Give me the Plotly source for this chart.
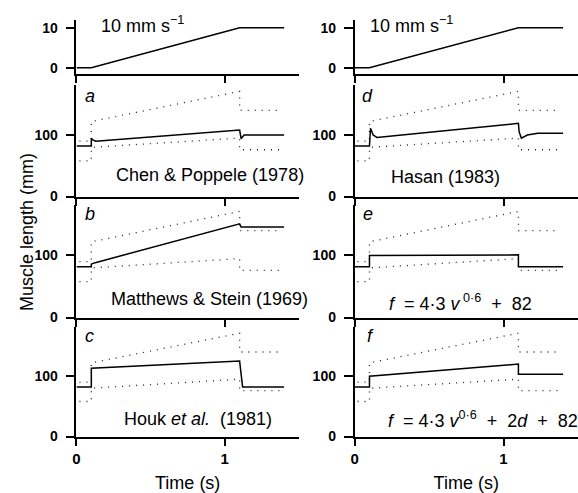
import plotly.graph_objects as go

# ---------------- data ----------------
ramp_t = [0, 0.1, 1.1, 1.4]
ramp_mm = [0, 0, 10, 10]

env_t = [0.02, 0.1, 0.1, 1.1, 1.1, 1.38]
env_upper = [90, 90, 122, 171, 140, 140]
env_lower = [58, 58, 80, 95, 76, 76]

a_t = [0, 0.1, 0.1, 0.11, 0.13, 1.1, 1.11, 1.13, 1.4]
a_y = [82, 82, 95, 92, 90, 108, 94, 100, 100]

b_t = [0, 0.1, 0.1, 0.12, 1.1, 1.11, 1.4]
b_y = [82, 82, 86, 88, 151, 146, 146]

c_t = [0, 0.1, 0.1, 1.1, 1.12, 1.4]
c_y = [82, 82, 113, 125, 82, 82]

d_t = [0, 0.1, 0.107, 0.125, 0.15, 1.1, 1.105, 1.12, 1.16, 1.23, 1.4]
d_y = [82, 82, 111, 100, 96, 119, 105, 95, 100, 103, 103]

e_t = [0, 0.1, 0.1, 1.1, 1.1, 1.4]
e_y = [82, 82, 100, 101, 82, 82]

f_t = [0, 0.1, 0.1, 1.1, 1.1, 1.4]
f_y = [82, 82, 100, 120, 103, 103]

panel_letters = ["a", "d", "b", "e", "c", "f"]
panel_titles = [
    "Chen & Poppele (1978)",
    "Hasan (1983)",
    "Matthews & Stein (1969)",
    "<i>f</i>\u00a0 = 4·3\u00a0<i>v</i><sup>\u00a00·6</sup>\u00a0 + \u00a082",
    "Houk <i>et al.</i>\u00a0 (1981)",
    "<i>f</i>\u00a0 = 4·3\u00a0<i>v</i><sup>0·6</sup>\u00a0 + \u00a02<i>d</i>\u00a0 + \u00a082",
]
speed_label = "10 mm s<sup>\u22121</sup>"
x_ticks = [0, 1]
x_ticktext = ["0", "1"]

# ---------------- layout geometry ----------------
W, H = 578, 493
col_px = [(73, 297), (353, 578)]
row_px = [(20, 75), (86, 200), (208, 323), (332, 444)]
FONT = "Liberation Sans, Arial, Helvetica, sans-serif"

fig = go.Figure()
layout = dict(
    width=W, height=H, margin=dict(l=0, r=0, t=0, b=0),
    paper_bgcolor="white", plot_bgcolor="white", showlegend=False,
    font=dict(family=FONT, color="black"),
)

def ax_name(n, kind):
    return f"{kind}axis" if n == 1 else f"{kind}axis{n}"

def ref(n, kind):
    return kind if n == 1 else f"{kind}{n}"

for r in range(4):
    for c in range(2):
        n = r * 2 + c + 1
        x0, x1 = col_px[c]
        y0, y1 = row_px[r]
        xa = dict(
            domain=[x0 / W, x1 / W], range=[0, 1.5], anchor=ref(n, "y"),
            showline=True, linecolor="black", linewidth=1.6,
            ticks="outside", ticklen=7, tickwidth=1.5, tickcolor="black",
            tickvals=x_ticks, ticktext=x_ticktext,
            showticklabels=(r == 3), showgrid=False, zeroline=False,
            tickfont=dict(size=15, family=FONT, weight=700),
        )
        if r == 3:
            xa["title"] = dict(text="Time (s)", font=dict(size=18, family=FONT), standoff=12)
        layout[ax_name(n, "x")] = xa
        if r == 0:
            yr, yt = [-1.5, 12], [0, 10]
        else:
            yr, yt = [-0.4, 182], [0, 100]
        layout[ax_name(n, "y")] = dict(
            domain=[1 - y1 / H, 1 - y0 / H], range=yr, anchor=ref(n, "x"),
            showline=True, linecolor="black", linewidth=1.6,
            ticks="outside", ticklen=9, tickwidth=1.5, tickcolor="black",
            tickvals=yt, showgrid=False, zeroline=False, ticklabelstandoff=5,
            tickfont=dict(size=14, family=FONT, weight=700),
        )

fig.update_layout(**layout)

def add_line(n, x, y, dotted=False):
    fig.add_trace(go.Scatter(
        x=x, y=y, mode="lines", xaxis=ref(n, "x"), yaxis=ref(n, "y"),
        line=dict(color="#222" if dotted else "black", width=1.3 if dotted else 1.5,
                  dash="1px,6px" if dotted else "solid"),
        hoverinfo="skip", cliponaxis=False,
    ))

# top stimulus panels
for n in (1, 2):
    add_line(n, ramp_t, ramp_mm)

responses = [(a_t, a_y), (d_t, d_y), (b_t, b_y), (e_t, e_y), (c_t, c_y), (f_t, f_y)]
for i, (tt, yy) in enumerate(responses):
    n = i + 3
    add_line(n, env_t, env_upper, dotted=True)
    add_line(n, env_t, env_lower, dotted=True)
    add_line(n, tt, yy)

annotations = []
# speed labels
for n, xs in ((1, 0.155), (2, 0.09)):
    annotations.append(dict(x=xs, y=10.8, xref=ref(n, "x"), yref=ref(n, "y"),
                            text=speed_label, showarrow=False, xanchor="left",
                            font=dict(size=18, family=FONT)))

letter_pos = [(0.09, 163), (0.09, 163), (0.09, 167), (0.09, 167), (0.09, 167), (0.11, 167)]
title_pos = [(0.9, 35), (0.613, 32), (0.9, 30), (0.713, 25), (0.82, 29), (0.86, 28)]
for i in range(6):
    n = i + 3
    lx, ly = letter_pos[i]
    annotations.append(dict(x=lx, y=ly, xref=ref(n, "x"), yref=ref(n, "y"),
                            text=f"<i>{panel_letters[i]}</i>", showarrow=False,
                            font=dict(size=18, family=FONT)))
    tx, ty = title_pos[i]
    annotations.append(dict(x=tx, y=ty, xref=ref(n, "x"), yref=ref(n, "y"),
                            text=panel_titles[i], showarrow=False,
                            font=dict(size=18, family=FONT)))

annotations.append(dict(x=23 / W, y=1 - 236 / H, xref="paper", yref="paper",
                        xanchor="center", yanchor="middle",
                        text="Muscle length (mm)", showarrow=False, textangle=-90,
                        font=dict(size=18, family=FONT)))

fig.update_layout(annotations=annotations)
fig.write_html("out.html")
